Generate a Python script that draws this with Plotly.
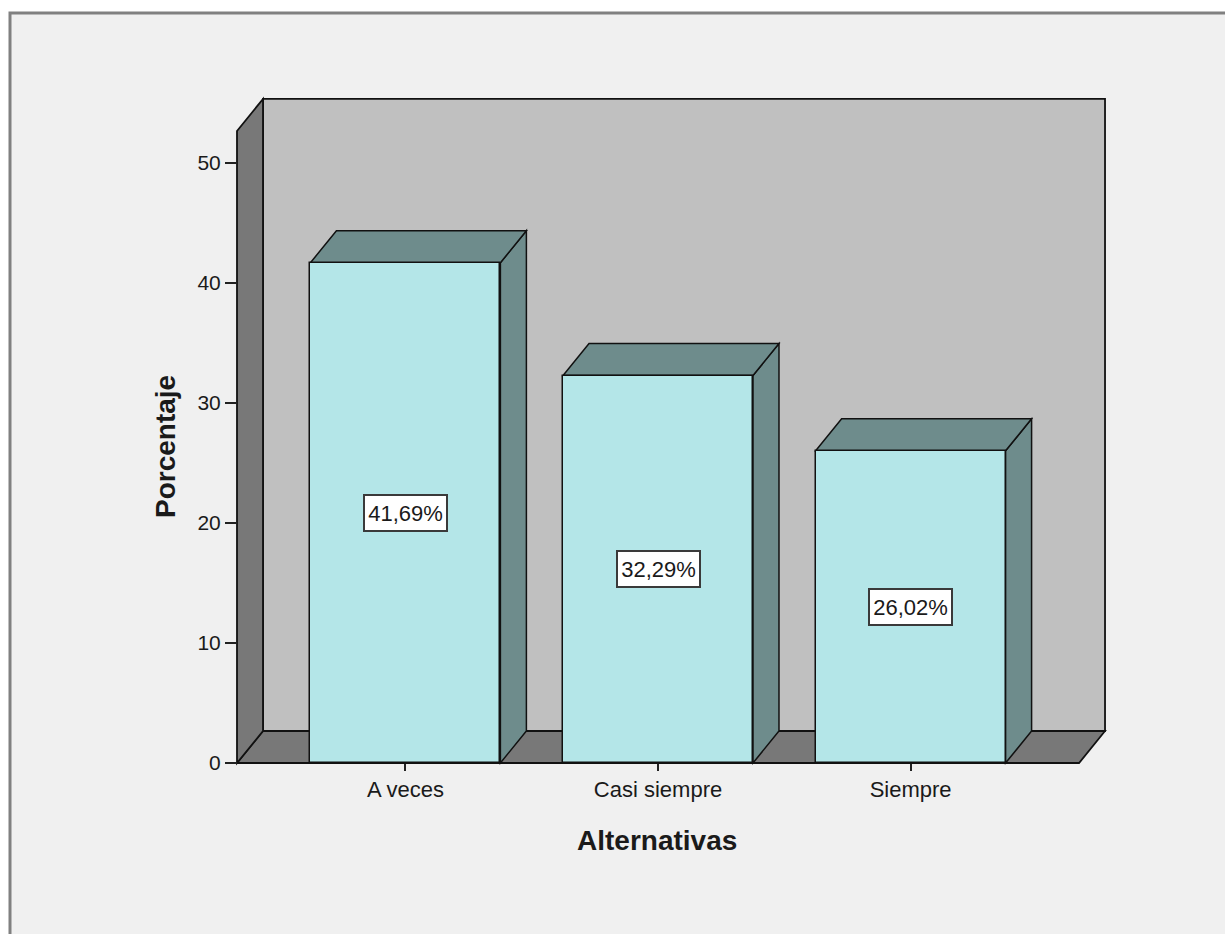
import plotly.graph_objects as go

# ---- data -------------------------------------------------------------
categories = ["A veces", "Casi siempre", "Siempre"]
percentages = [41.69, 32.29, 26.02]
y_ticks = [0, 10, 20, 30, 40, 50]

# ---- look & geometry --------------------------------------------------
W, H = 1225, 934
L, R, T, B = 230, 110, 92, 164          # margins (px)
PW, PH = W - L - R, H - T - B          # plot area size (px)

PX_PER_CAT = 252.6                     # px per category step
PX_PER_UNIT = 12.0                     # px per percentage point
PAD = 0.6667                           # floor overhang beyond first/last category
BAR_W = 0.752                          # bar width in category units
DX = 26 / PX_PER_CAT                   # depth offset (x, category units)
DY = 32 / PX_PER_UNIT                  # depth offset (y, value units)
WALL_TOP = 52.67                       # height of the front edge of the side wall

ORIGIN_PX = (237, 763)                 # pixel of (x=-PAD, y=0)

x_left = -PAD - (ORIGIN_PX[0] - L) / PX_PER_CAT
x_right = x_left + PW / PX_PER_CAT
y_bottom = -((H - B) - ORIGIN_PX[1]) / PX_PER_UNIT
y_top = y_bottom + PH / PX_PER_UNIT

FONT = "Liberation Sans, Arial, sans-serif"
BG = "#f0f0f0"
BACK_WALL = "#c0c0c0"
SIDE_WALL = "#787878"
BAR_FRONT = "#b4e6e8"
BAR_SHADE = "#6e8c8c"
EDGE = "#111111"
TEXT = "#1a1a1a"


def paper_x(px):
    return (px - L) / PW


def paper_y(py):
    return ((H - B) - py) / PH


def poly(points):
    return "M " + " L ".join(f"{x},{y}" for x, y in points) + " Z"


x0, x1 = -PAD, len(categories) - 1 + PAD

shapes = []
# outer chart frame
shapes.append(dict(type="rect", xref="paper", yref="paper",
                   x0=paper_x(10), x1=paper_x(W + 20),
                   y0=paper_y(H + 20), y1=paper_y(13),
                   fillcolor=BG, line=dict(color="#808080", width=3),
                   layer="below"))

# back wall
shapes.append(dict(type="path", xref="x", yref="y", layer="below",
                   path=poly([(x0 + DX, DY), (x1 + DX, DY),
                              (x1 + DX, WALL_TOP + DY), (x0 + DX, WALL_TOP + DY)]),
                   fillcolor=BACK_WALL, line=dict(color=EDGE, width=1.8)))
# floor
shapes.append(dict(type="path", xref="x", yref="y", layer="below",
                   path=poly([(x0, 0), (x1, 0), (x1 + DX, DY), (x0 + DX, DY)]),
                   fillcolor=SIDE_WALL, line=dict(color=EDGE, width=1.8)))
# left wall
shapes.append(dict(type="path", xref="x", yref="y", layer="below",
                   path=poly([(x0, 0), (x0, WALL_TOP),
                              (x0 + DX, WALL_TOP + DY), (x0 + DX, DY)]),
                   fillcolor=SIDE_WALL, line=dict(color=EDGE, width=1.8)))

# bar tops and right sides
for i, v in enumerate(percentages):
    xl, xr = i - BAR_W / 2, i + BAR_W / 2
    shapes.append(dict(type="path", xref="x", yref="y", layer="below",
                       path=poly([(xr, 0), (xr, v), (xr + DX, v + DY), (xr + DX, DY)]),
                       fillcolor=BAR_SHADE, line=dict(color=EDGE, width=1.5)))
    shapes.append(dict(type="path", xref="x", yref="y", layer="below",
                       path=poly([(xl, v), (xr, v), (xr + DX, v + DY), (xl + DX, v + DY)]),
                       fillcolor=BAR_SHADE, line=dict(color=EDGE, width=1.5)))

fig = go.Figure()
fig.add_trace(go.Bar(
    x=list(range(len(categories))), y=percentages, width=BAR_W,
    marker=dict(color=BAR_FRONT, line=dict(color=EDGE, width=1.5)),
    hoverinfo="skip", showlegend=False,
))

annotations = []
for i, v in enumerate(percentages):
    annotations.append(dict(
        x=i, y=v / 2, xref="x", yref="y", showarrow=False,
        xanchor="center", yanchor="middle",
        text=f"{v:.2f}".replace(".", ",") + "%",
        font=dict(family=FONT, size=22, color=TEXT),
        width=77, height=30, align="center", valign="middle",
        bgcolor="#ffffff", bordercolor="#3a3a3a", borderwidth=2, borderpad=2,
    ))

annotations.append(dict(
    x=paper_x(165), y=paper_y(447), xref="paper", yref="paper",
    xanchor="center", yanchor="middle",
    text="<b>Porcentaje</b>", textangle=-90, showarrow=False,
    font=dict(family=FONT, size=28, color=TEXT),
))
annotations.append(dict(
    x=paper_x(657), y=paper_y(840), xref="paper", yref="paper",
    xanchor="center", yanchor="middle",
    text="<b>Alternativas</b>", showarrow=False,
    font=dict(family=FONT, size=28, color=TEXT),
))

fig.update_layout(
    width=W, height=H,
    margin=dict(l=L, r=R, t=T, b=B, pad=0),
    paper_bgcolor="#ffffff",
    plot_bgcolor="rgba(0,0,0,0)",
    shapes=shapes,
    annotations=annotations,
    bargap=0,
    xaxis=dict(
        range=[x_left, x_right], domain=[0, 1],
        anchor="free", position=paper_y(ORIGIN_PX[1]),
        tickvals=list(range(len(categories))), ticktext=categories,
        ticks="outside", ticklen=7, tickwidth=2, tickcolor="#222222",
        showgrid=False, zeroline=False, showline=False,
        tickfont=dict(family=FONT, size=22, color=TEXT),
        fixedrange=True,
    ),
    yaxis=dict(
        range=[y_bottom, y_top], domain=[0, 1],
        anchor="free", position=paper_x(ORIGIN_PX[0]),
        tickvals=y_ticks, ticktext=[str(t) for t in y_ticks],
        ticks="outside", ticklen=12, tickwidth=2, tickcolor="#222222",
        showgrid=False, zeroline=False, showline=False,
        tickfont=dict(family=FONT, size=21, color=TEXT),
        fixedrange=True,
    ),
)

fig.write_html("out.html", config={"displayModeBar": False})
